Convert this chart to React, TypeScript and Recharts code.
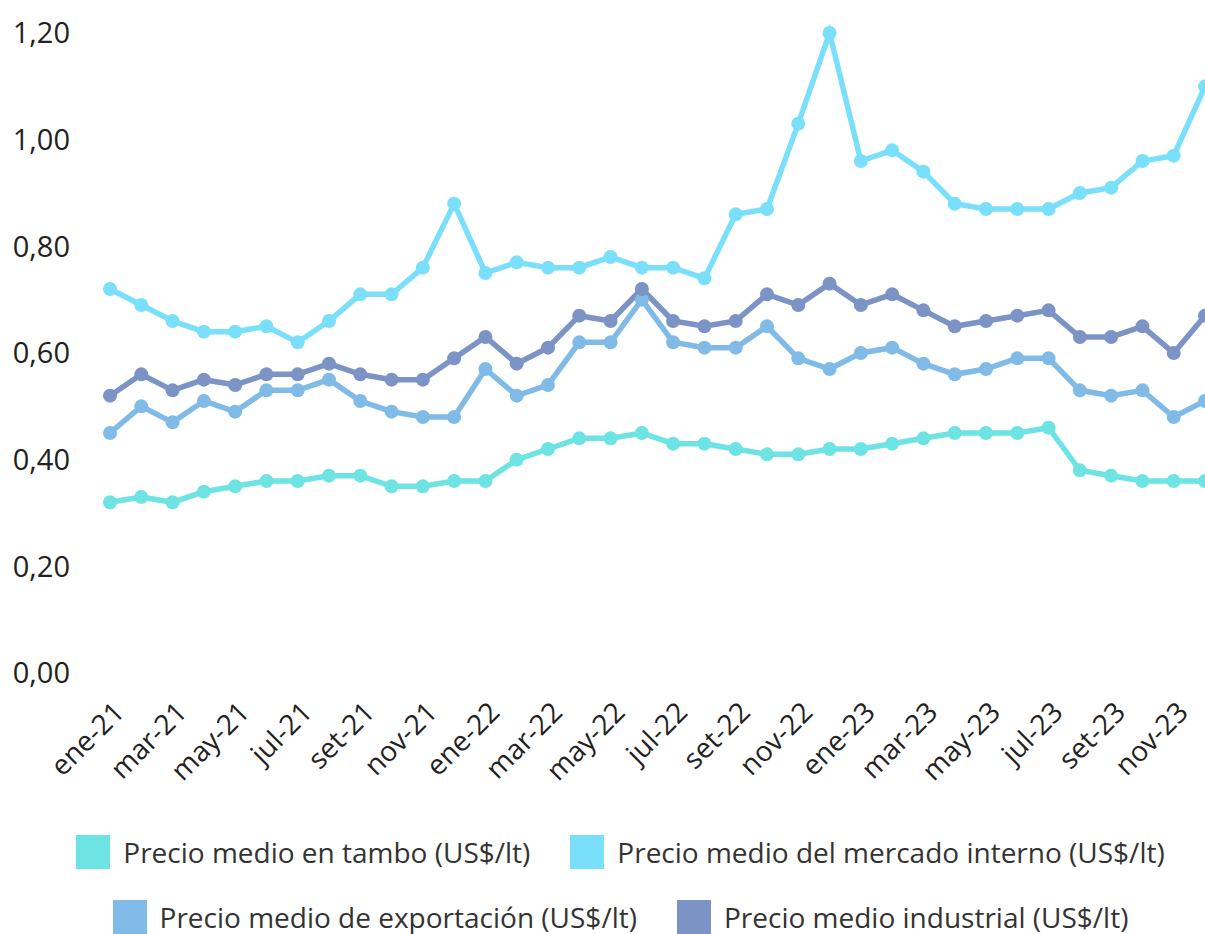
import React from "react";
import { LineChart, Line, XAxis, YAxis, Legend } from "recharts";

const months = [
  "ene-21","feb-21","mar-21","abr-21","may-21","jun-21","jul-21","ago-21","set-21","oct-21","nov-21","dic-21",
  "ene-22","feb-22","mar-22","abr-22","may-22","jun-22","jul-22","ago-22","set-22","oct-22","nov-22","dic-22",
  "ene-23","feb-23","mar-23","abr-23","may-23","jun-23","jul-23","ago-23","set-23","oct-23","nov-23","dic-23",
];

const tambo = [
  0.32,0.33,0.32,0.34,0.35,0.36,0.36,0.37,0.37,0.35,0.35,0.36,
  0.36,0.40,0.42,0.44,0.44,0.45,0.43,0.43,0.42,0.41,0.41,0.42,
  0.42,0.43,0.44,0.45,0.45,0.45,0.46,0.38,0.37,0.36,0.36,0.36,
];
const interno = [
  0.72,0.69,0.66,0.64,0.64,0.65,0.62,0.66,0.71,0.71,0.76,0.88,
  0.75,0.77,0.76,0.76,0.78,0.76,0.76,0.74,0.86,0.87,1.03,1.20,
  0.96,0.98,0.94,0.88,0.87,0.87,0.87,0.90,0.91,0.96,0.97,1.10,
];
const exportacion = [
  0.45,0.50,0.47,0.51,0.49,0.53,0.53,0.55,0.51,0.49,0.48,0.48,
  0.57,0.52,0.54,0.62,0.62,0.70,0.62,0.61,0.61,0.65,0.59,0.57,
  0.60,0.61,0.58,0.56,0.57,0.59,0.59,0.53,0.52,0.53,0.48,0.51,
];
const industrial = [
  0.52,0.56,0.53,0.55,0.54,0.56,0.56,0.58,0.56,0.55,0.55,0.59,
  0.63,0.58,0.61,0.67,0.66,0.72,0.66,0.65,0.66,0.71,0.69,0.73,
  0.69,0.71,0.68,0.65,0.66,0.67,0.68,0.63,0.63,0.65,0.60,0.67,
];

const yTicks = [0, 0.2, 0.4, 0.6, 0.8, 1.0, 1.2];

const seriesKeys = ["tambo", "interno", "exportacion", "industrial"];
const seriesNames = [
  "Precio medio en tambo (US$/lt)",
  "Precio medio del mercado interno (US$/lt)",
  "Precio medio de exportación (US$/lt)",
  "Precio medio industrial (US$/lt)",
];
const seriesColors = ["#6EE3E3", "#7ADFFB", "#80BBE8", "#7B93C5"];

const data = months.map((m, i) => ({
  month: m,
  tambo: tambo[i],
  interno: interno[i],
  exportacion: exportacion[i],
  industrial: industrial[i],
}));

const FONT = "'Open Sans', 'Noto Sans', sans-serif";

const fmt = (v: number) => v.toFixed(2).replace(".", ",");

const YTick = (props: any) => {
  const { y, payload } = props;
  return (
    <text x={70} y={y} dy="0.36em" textAnchor="end" fontFamily={FONT} fontSize={29} fill="#222">
      {fmt(payload.value)}
    </text>
  );
};

const XTick = (props: any) => {
  const { x, y, payload } = props;
  const ax = x + 16;
  const ay = y + 41;
  return (
    <text
      x={ax}
      y={ay}
      textAnchor="end"
      transform={`rotate(-45, ${ax}, ${ay})`}
      fontFamily={FONT}
      fontSize={28}
      fill="#222"
    >
      {payload.value}
    </text>
  );
};

const LegendItem = ({ idx }: { idx: number }) => (
  <div style={{ display: "flex", alignItems: "center", height: 34 }}>
    <div style={{ width: 34, height: 34, background: seriesColors[idx], marginRight: 13 }} />
    <span style={{ fontFamily: FONT, fontSize: 28, color: "#333", whiteSpace: "nowrap" }}>
      {seriesNames[idx]}
    </span>
  </div>
);

const LegendContent = () => (
  <div style={{ height: 110, boxSizing: "border-box", paddingTop: 11, paddingLeft: 36 }}>
    <div style={{ display: "flex", justifyContent: "center", gap: 40, height: 34 }}>
      <LegendItem idx={0} />
      <LegendItem idx={1} />
    </div>
    <div style={{ display: "flex", justifyContent: "center", gap: 40, height: 34, marginTop: 31 }}>
      <LegendItem idx={2} />
      <LegendItem idx={3} />
    </div>
  </div>
);

export default function App() {
  return (
    <div style={{ position: "absolute", left: 0, top: 0, width: 1205, height: 934, background: "#fff" }}>
      <LineChart width={1205} height={934} data={data} margin={{ top: 33, right: 0, bottom: 0, left: 0 }}>
        <XAxis
          dataKey="month"
          scale="point"
          padding={{ left: 0, right: 0 }}
          interval={1}
          axisLine={false}
          tickLine={false}
          tickSize={0}
          tickMargin={0}
          height={151}
          tick={<XTick />}
        />
        <YAxis
          domain={[0, 1.2]}
          ticks={yTicks}
          width={110}
          axisLine={false}
          tickLine={false}
          tickSize={0}
          tickMargin={0}
          tick={<YTick />}
        />
        <Legend verticalAlign="bottom" align="center" height={110} content={<LegendContent />} />
        {seriesKeys.map((k, i) => (
          <Line
            key={k}
            dataKey={k}
            name={seriesNames[i]}
            stroke={seriesColors[i]}
            strokeWidth={5.5}
            dot={{ r: 7, fill: seriesColors[i], stroke: seriesColors[i], strokeWidth: 0 }}
            activeDot={false}
            isAnimationActive={false}
          />
        ))}
      </LineChart>
    </div>
  );
}
